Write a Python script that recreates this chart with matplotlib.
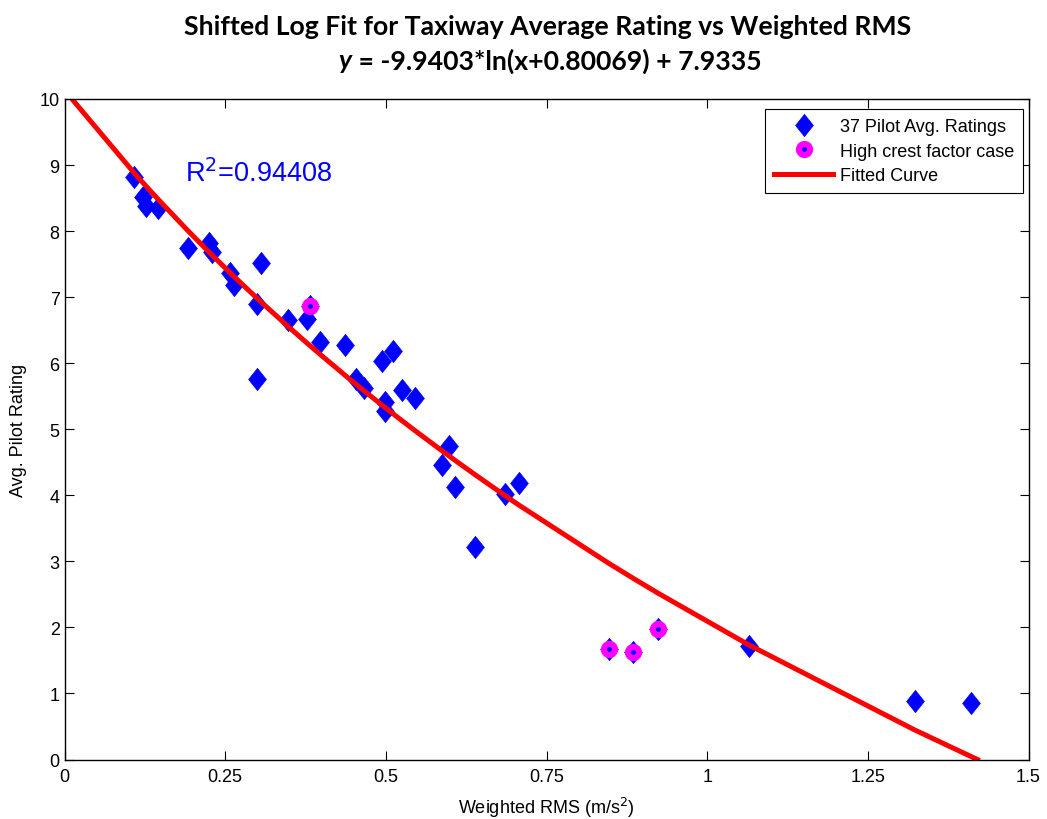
import matplotlib
matplotlib.use('Agg')
import matplotlib.pyplot as plt
import numpy as np
from matplotlib.path import Path

# Data
rms = [0.108, 0.122, 0.127, 0.145, 0.192, 0.225, 0.229, 0.258, 0.263, 0.306,
       0.299, 0.300, 0.348, 0.377, 0.382, 0.397, 0.437, 0.454, 0.466, 0.494,
       0.511, 0.499, 0.499, 0.525, 0.545, 0.587, 0.598, 0.608, 0.638, 0.686,
       0.707, 0.847, 0.885, 0.923, 1.065, 1.323, 1.410]
rating = [8.82, 8.52, 8.38, 8.35, 7.74, 7.82, 7.69, 7.37, 7.18, 7.51,
          6.90, 5.76, 6.65, 6.67, 6.86, 6.32, 6.27, 5.76, 5.62, 6.04,
          6.19, 5.41, 5.28, 5.60, 5.48, 4.46, 4.74, 4.13, 3.21, 4.02,
          4.19, 1.67, 1.62, 1.98, 1.72, 0.88, 0.86]
high_crest_rms = [0.382, 0.847, 0.885, 0.923]
high_crest_rating = [6.86, 1.67, 1.62, 1.98]

# Fit coefficients (from the title)
fit_a, fit_b, fit_c = -9.9403, 0.80069, 7.9335
r_squared = 0.94408

# fitted curve: from rating 10 down to rating 0, through the data x values
x_start = np.exp((10 - fit_c) / fit_a) - fit_b
x_end = np.exp((0 - fit_c) / fit_a) - fit_b
fit_x = np.concatenate([[x_start], np.sort(rms), [x_end]])
fit_y = fit_a * np.log(fit_x + fit_b) + fit_c

plt.rcParams['font.family'] = ['Liberation Sans', 'DejaVu Sans']

W, H = 1047, 820
fig = plt.figure(figsize=(W / 100, H / 100), dpi=100)
ax = fig.add_axes([64.5 / W, 1 - 760.5 / H, (1028.5 - 64.5) / W, (760.5 - 100) / H])

diamond = Path([(0, 1), (0.8, 0), (0, -1), (-0.8, 0), (0, 1)],
               [Path.MOVETO, Path.LINETO, Path.LINETO, Path.LINETO, Path.CLOSEPOLY])

ax.plot(rms, rating, linestyle='none', marker=diamond, markersize=16,
        color='#0000ff', markeredgewidth=0.5, label='37 Pilot Avg. Ratings')
ax.plot(high_crest_rms, high_crest_rating, linestyle='none', marker='o',
        markersize=8, markerfacecolor='#0000ff', markeredgecolor='#ff00ff',
        markeredgewidth=4.4, label='High crest factor case')
ax.plot(fit_x, fit_y, color='#ff0000', linewidth=3.6, label='Fitted Curve')

ax.text(0.187, 8.88, 'R$^2$=%.5f' % r_squared, color='#0000ff', fontsize=19.5,
        va='center', ha='left')

ax.set_xlim(0, 1.5)
ax.set_ylim(0, 10)
ax.set_xticks([0, 0.25, 0.5, 0.75, 1, 1.25, 1.5])
ax.set_xticklabels(['0', '0.25', '0.5', '0.75', '1', '1.25', '1.5'])
ax.set_yticks(range(0, 11))
ax.tick_params(direction='in', top=True, right=True, labelsize=13, length=6.5)
ax.tick_params(axis='x', pad=6)
for s in ax.spines.values():
    s.set_linewidth(1.0)

ax.set_xlabel('Weighted RMS (m/s$^2$)', fontsize=13, labelpad=7)
ax.set_ylabel('Avg. Pilot Rating', fontsize=13, labelpad=9)

leg = ax.legend(loc='upper right', bbox_to_anchor=(1023 / W, 1 - 110 / H),
                bbox_transform=fig.transFigure, borderaxespad=0,
                fontsize=13, fancybox=False, framealpha=1, edgecolor='black',
                handlelength=3.3, handletextpad=0.35, labelspacing=0.42,
                borderpad=0.5)
leg.get_frame().set_linewidth(0.8)

# Two-line title, second line with italic y
cx = 548 / W
fig.text(cx, 1 - 27 / H, 'Shifted Log Fit for Taxiway Average Rating vs Weighted RMS',
         ha='center', va='center', fontsize=19.2, fontweight='bold', family='Lato')
rest = fig.text(cx + 0.008, 1 - 61 / H, ' = -9.9403*ln(x+0.80069) + 7.9335',
                ha='center', va='center', fontsize=19.2, fontweight='bold', family='Lato')
fig.canvas.draw()
bb = rest.get_window_extent().transformed(fig.transFigure.inverted())
fig.text(bb.x0, 1 - 61 / H, 'y', ha='right', va='center', fontsize=19.2,
         fontweight='bold', fontstyle='italic', family='Lato')

fig.savefig('out.png', dpi=100)
